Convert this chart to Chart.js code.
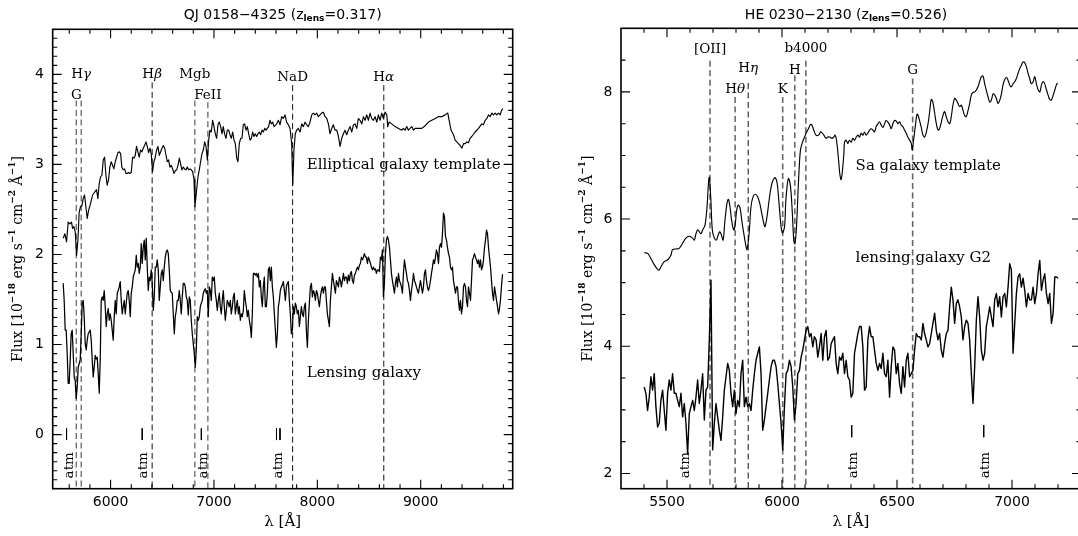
<!DOCTYPE html>
<html><head><meta charset="utf-8">
<script src="https://cdn.jsdelivr.net/npm/chart.js@4/dist/chart.umd.min.js"></script>
<style>
html,body{margin:0;padding:0;background:#fff;overflow:hidden;width:1078px;height:536px;}
#cL{position:absolute;left:0;top:0;}
#cR{position:absolute;left:540px;top:0;}
</style></head><body>
<canvas id="cL" width="540" height="536"></canvas>
<canvas id="cR" width="560" height="536"></canvas>
<script>
// ---------------- DATA ----------------
// Left panel: QJ 0158-4325, elliptical template
const leftTemplateLambda = [
5542,5558,5574,5590,5606,5622,5632,5645,5658,5671,5684,5696,5709,5722,5735,5748,5761,5774,5787,5800,
5813,5826,5838,5851,5864,5877,5890,5903,5916,5929,5942,5955,5967,5980,5993,6006,6019,6032,6045,6058,
6071,6084,6097,6109,6122,6135,6148,6161,6174,6187,6200,6213,6226,6239,6251,6264,6277,6290,6303,6316,
6329,6342,6355,6368,6381,6393,6406,6419,6432,6445,6458,6471,6484,6497,6510,6523,6535,6548,6561,6574,
6587,6600,6613,6626,6639,6652,6665,6677,6690,6703,6716,6729,6742,6755,6768,6781,6794,6807,6816,
6832,6845,6858,6871,6884,6897,6910,6923,6936,6949,6961,6974,6987,7000,7013,7026,7039,7052,7065,7078,
7090,7103,7116,7129,7142,7155,7168,7181,7194,7207,7220,7232,7245,7258,7271,7284,7297,7310,7323,7336,
7349,7362,7374,7387,7400,7413,7426,7439,7452,7465,7478,7491,7504,7516,7529,7542,7555,7568,7581,
7607,7623,7639,7655,7671,7687,7703,7720,7736,7752,7762,7774,7787,7800,7816,7833,7849,7865,7881,7897,
7913,7929,7946,7962,7978,7994,8010,8026,8042,8058,8075,8091,8107,8123,8139,8155,8171,8188,8204,8220,
8236,8252,8268,8284,8300,8317,8333,8349,8365,8381,8397,8413,8430,8446,8462,8478,8494,8510,8526,8542,
8559,8575,8591,8607,8623,8639,8655,8672,8681,8694,8720,8752,8785,8817,8833,8849,8865,8881,8897,8914,
8930,8946,8978,9010,9043,9075,9107,9140,9172,9204,9236,9262,9275,9294,9317,9333,9349,9365,9382,9398,
9414,9430,9446,9462,9478,9494,9527,9559,9591,9607,9624,9640,9656,9672,9688,9704,9720,9736,9753,9769,
9782,9795];
const leftTemplateFlux = [
2.18,2.23,2.14,2.36,2.34,2.36,2.29,2.31,2.25,1.99,2.16,2.47,2.53,2.54,2.62,2.66,2.53,2.40,2.49,2.54,
2.60,2.66,2.68,2.70,2.72,2.62,2.79,2.86,2.88,3.05,3.08,2.88,2.77,2.83,2.97,3.03,2.99,2.95,3.03,3.08,
3.13,3.14,3.12,2.97,2.94,2.95,2.90,2.90,2.91,2.90,2.91,3.08,3.07,3.10,3.20,3.14,3.08,3.16,3.14,3.18,
3.21,3.25,3.20,3.13,3.18,3.12,2.92,3.03,3.08,3.16,3.20,3.10,3.14,3.18,3.21,3.18,3.11,3.03,3.05,2.97,
2.99,2.95,2.90,2.93,2.94,2.99,3.07,3.01,2.94,2.97,2.95,2.94,2.97,2.94,2.95,2.94,2.92,2.83,2.53,
2.71,2.86,2.94,3.03,3.12,3.16,3.25,3.20,3.05,3.27,3.38,3.36,3.49,3.42,3.34,3.29,3.44,3.47,3.42,3.34,
3.42,3.34,3.29,3.38,3.38,3.33,3.29,3.36,3.27,3.23,3.07,3.03,3.23,3.29,3.29,3.44,3.45,3.38,3.42,3.34,
3.27,3.29,3.36,3.31,3.34,3.31,3.34,3.36,3.33,3.38,3.36,3.40,3.38,3.40,3.42,3.49,3.45,3.47,3.42,
3.45,3.49,3.44,3.53,3.51,3.55,3.47,3.44,3.40,3.23,2.77,3.16,3.34,3.38,3.40,3.36,3.45,3.42,3.47,3.44,
3.42,3.47,3.55,3.57,3.55,3.57,3.53,3.55,3.57,3.58,3.53,3.51,3.45,3.34,3.40,3.44,3.38,3.38,3.31,3.20,
3.29,3.34,3.38,3.33,3.38,3.42,3.36,3.44,3.45,3.40,3.51,3.49,3.45,3.53,3.49,3.55,3.49,3.57,3.51,3.49,
3.53,3.47,3.55,3.49,3.57,3.51,3.58,3.55,3.42,3.47,3.45,3.42,3.40,3.38,3.40,3.38,3.42,3.38,3.40,3.42,
3.38,3.40,3.40,3.40,3.43,3.47,3.49,3.51,3.53,3.53,3.55,3.57,3.49,3.38,3.33,3.27,3.25,3.23,3.21,3.18,
3.23,3.23,3.25,3.24,3.29,3.31,3.36,3.40,3.45,3.44,3.49,3.51,3.55,3.53,3.57,3.55,3.57,3.55,3.57,3.55,
3.60,3.62];

// Left panel: lensing galaxy, sampled on a regular wavelength grid
const leftGalaxyLambdaStart = 5541.5;
const leftGalaxyLambdaStep = 9.681;
const leftGalaxyFlux = [
1.68,1.49,1.16,1.16,0.90,0.57,0.57,0.83,1.12,1.16,0.90,0.64,0.60,0.40,0.53,0.75,0.79,0.83,1.12,1.46,
1.49,1.31,1.01,0.94,1.05,1.12,1.14,1.16,1.05,0.83,0.64,0.75,0.88,0.84,0.86,0.68,0.46,0.83,1.49,1.53,
1.49,1.60,1.42,1.20,1.34,1.40,1.27,1.34,1.27,1.16,1.05,1.31,1.49,1.34,1.57,1.60,1.64,1.70,1.49,1.34,
1.42,1.49,1.34,1.46,1.57,1.60,1.49,1.31,1.57,1.64,1.75,1.79,1.83,1.99,1.86,1.90,1.79,1.86,2.12,1.90,
2.08,2.16,1.94,2.18,1.86,1.60,1.75,1.71,1.83,1.68,1.38,1.53,1.86,1.86,1.94,1.83,1.49,1.64,1.79,1.83,
1.71,1.86,1.97,2.03,2.05,2.01,1.83,1.60,1.58,1.57,1.34,1.12,1.31,1.38,1.49,1.49,1.60,1.49,1.34,1.53,
1.68,1.68,1.64,1.53,1.49,1.33,1.53,1.49,1.27,1.12,1.01,0.90,0.75,0.94,1.31,1.27,1.31,1.42,1.46,1.49,
1.57,1.60,1.62,1.57,1.60,1.31,1.64,1.60,1.49,1.75,1.71,1.75,1.57,1.49,1.38,1.49,1.57,1.42,1.34,1.49,
1.60,1.42,1.27,1.38,1.49,1.46,1.42,1.49,1.34,1.42,1.53,1.57,1.34,1.42,1.49,1.34,1.42,1.27,1.34,1.31,
1.38,1.60,1.49,1.42,1.31,1.38,1.27,1.20,1.08,1.34,1.79,1.79,1.77,1.79,1.75,1.79,1.64,1.71,1.53,1.42,
1.64,1.75,1.42,1.42,1.57,1.83,1.86,1.71,1.86,1.64,1.53,1.34,1.16,0.97,1.12,1.42,1.49,1.60,1.64,1.66,
1.70,1.60,1.49,1.64,1.68,1.70,1.49,1.34,1.12,1.16,1.42,1.34,1.46,1.42,1.34,1.38,1.20,1.31,1.42,1.34,
1.31,1.42,1.46,1.16,0.97,1.27,1.46,1.64,1.68,1.53,1.60,1.57,1.49,1.60,1.57,1.49,1.42,1.53,1.60,1.64,
1.57,1.64,1.64,1.49,1.34,1.27,1.20,1.49,1.64,1.79,1.71,1.64,1.57,1.71,1.68,1.64,1.75,1.71,1.64,1.71,
1.79,1.71,1.75,1.75,1.68,1.77,1.71,1.79,1.81,1.71,1.68,1.77,1.79,1.83,1.86,1.83,1.88,1.90,1.97,1.94,
1.97,2.01,1.97,1.97,1.90,1.97,1.94,1.90,1.86,1.83,1.86,1.83,1.84,1.79,1.83,1.83,1.81,1.97,1.94,2.05,
1.53,1.68,2.01,2.16,2.20,2.16,2.08,1.94,1.79,1.71,1.64,1.57,1.68,1.75,1.64,1.79,1.71,1.68,1.64,1.57,
1.79,1.94,1.86,1.79,1.71,1.68,1.60,1.49,1.60,1.68,1.79,1.71,1.68,1.64,1.60,1.57,1.64,1.71,1.64,1.57,
1.64,1.79,1.83,1.71,1.64,1.60,1.64,1.71,1.79,1.86,1.94,1.90,1.97,2.05,2.01,1.90,2.08,2.12,2.08,2.23,
2.46,2.42,2.20,2.16,2.08,2.01,1.97,1.86,1.83,1.86,1.71,1.64,1.57,1.64,1.64,1.49,1.38,1.49,1.34,1.42,
1.64,1.68,1.64,1.49,1.42,1.64,1.57,1.49,1.71,1.94,1.97,2.01,1.97,1.94,1.90,1.94,1.86,1.94,1.83,1.86,
1.94,2.08,2.16,2.27,2.23,2.08,1.97,1.86,1.71,1.57,1.49,1.64,1.57,1.49,1.42,1.34,1.40,1.50,1.65,1.78];

// Right panel: HE 0230-2130, Sa template
const rightTemplateLambda = [
5401,5416,5430,5445,5459,5466,5474,5488,5503,5517,5524,5539,5553,5568,5582,5597,5611,5619,5626,5633,
5641,5648,5655,5665,5674,5683,5690,5697,5706,5715,5720,5729,5735,5744,5752,5761,5767,5774,5781,5790,
5796,5803,5810,5818,5825,5834,5844,5848,5857,5865,5874,5884,5894,5903,5912,5921,5926,5935,5944,5953,
5961,5970,5979,5987,5996,6002,6011,6016,6022,6028,6037,6045,6051,6056,6063,6072,6080,6089,6098,6106,
6115,6124,6130,6138,6148,6159,6167,6173,6182,6191,6199,6208,6217,6225,6231,6237,6246,6251,6257,6263,
6269,6272,6279,6286,6293,6301,6308,6315,6323,6330,6337,6344,6352,6359,6366,6373,6381,6388,6395,6402,
6410,6417,6424,6431,6439,6446,6453,6460,6468,6475,6482,6489,6497,6504,6511,6518,6526,6533,6540,6547,
6555,6562,6566,6572,6581,6587,6592,6598,6605,6613,6620,6627,6635,6642,6649,6656,6664,6671,6678,6685,
6693,6700,6707,6714,6722,6729,6736,6743,6751,6758,6765,6772,6780,6787,6794,6801,6809,6816,6823,6830,
6838,6845,6852,6859,6867,6874,6881,6888,6896,6903,6910,6918,6925,6932,6939,6947,6954,6961,6968,6976,
6983,6990,6997,7005,7012,7019,7026,7034,7041,7048,7055,7063,7070,7077,7084,7092,7099,7106,7113,7121,
7128,7135,7142,7150,7157,7164,7171,7179,7186,7193,7198];
const rightTemplateFlux = [
5.47,5.46,5.38,5.28,5.21,5.20,5.25,5.33,5.36,5.43,5.52,5.53,5.54,5.62,5.70,5.73,5.70,5.67,5.77,5.83,
5.80,5.77,5.83,5.90,6.19,6.66,6.35,5.83,5.70,5.67,5.72,5.80,5.77,5.67,5.98,6.25,6.31,6.19,5.98,5.83,
5.90,6.14,6.22,6.17,5.98,5.77,5.56,5.52,5.77,6.19,6.35,6.39,6.35,6.25,6.09,5.93,5.88,6.04,6.30,6.51,
6.61,6.65,6.56,6.25,5.88,5.78,5.88,6.25,6.51,6.64,6.51,6.09,5.67,5.61,5.88,6.61,7.08,7.21,7.29,7.36,
7.42,7.49,7.48,7.40,7.32,7.32,7.37,7.36,7.32,7.27,7.29,7.29,7.27,7.29,7.32,7.24,6.93,6.72,6.62,6.77,
7.03,7.21,7.24,7.19,7.24,7.21,7.27,7.24,7.29,7.32,7.29,7.35,7.32,7.37,7.32,7.35,7.40,7.42,7.40,7.37,
7.46,7.50,7.53,7.48,7.44,7.50,7.55,7.53,7.48,7.42,7.50,7.55,7.54,7.50,7.53,7.48,7.45,7.40,7.35,7.29,
7.24,7.19,7.09,7.24,7.50,7.65,7.63,7.55,7.45,7.32,7.29,7.36,7.50,7.69,7.88,7.84,7.66,7.50,7.40,7.42,
7.53,7.63,7.69,7.61,7.53,7.50,7.61,7.79,7.90,7.87,7.82,7.77,7.79,7.71,7.63,7.61,7.71,7.82,7.95,7.99,
8.00,8.03,8.08,8.16,8.24,8.25,8.13,8.03,7.92,7.84,7.87,7.97,7.95,7.90,7.82,7.87,7.97,8.11,8.19,8.23,
8.18,8.11,8.08,8.13,8.16,8.21,8.29,8.37,8.42,8.47,8.46,8.39,8.29,8.21,8.13,8.16,8.24,8.13,8.04,8.00,
8.11,8.16,8.13,8.03,7.95,7.88,7.87,7.95,8.03,8.11,8.14];

// Right panel: lensing galaxy G2, sampled on a regular wavelength grid
const rightGalaxyLambdaStart = 5401.0;
const rightGalaxyLambdaStep = 7.256;
const rightGalaxyFlux = [
3.36,3.26,2.99,3.20,3.52,3.31,3.57,3.05,2.73,2.79,3.15,3.31,2.99,2.68,3.26,3.47,3.31,3.57,3.26,3.26,
3.15,3.05,3.26,2.89,3.10,2.79,2.31,2.94,3.05,3.15,2.99,3.20,3.47,3.10,3.31,3.57,2.84,3.31,3.36,4.10,
5.04,2.37,2.79,3.10,2.89,2.68,2.52,2.89,3.31,3.52,3.73,3.62,3.26,3.05,3.31,2.94,3.15,3.05,3.57,3.78,
3.05,3.20,3.05,3.10,2.99,3.31,3.57,3.78,3.89,3.99,3.57,2.68,2.84,3.05,3.26,3.47,3.68,3.78,3.78,3.68,
3.41,3.10,2.79,2.37,3.05,3.57,3.62,3.78,3.68,3.36,2.84,3.10,3.57,3.62,3.83,3.94,4.10,4.25,4.31,4.15,
4.20,3.99,4.15,4.10,3.83,3.99,4.20,3.78,4.15,4.25,3.78,3.83,4.04,4.10,4.15,3.73,3.57,3.83,3.78,3.89,
3.57,3.78,3.52,3.47,3.20,3.26,3.89,4.04,4.20,4.31,4.31,3.99,3.31,3.36,4.10,4.31,4.15,4.15,3.94,3.73,
3.62,3.73,3.65,3.89,3.57,3.52,3.78,3.20,3.68,3.99,3.94,3.57,3.73,3.41,3.26,3.68,3.36,3.78,3.89,3.52,
3.57,3.62,3.94,4.20,4.15,4.15,4.10,4.36,4.20,4.10,3.99,4.04,4.20,4.36,4.52,4.25,4.10,4.20,3.94,3.83,
4.04,4.20,4.25,4.62,4.93,4.73,4.36,4.67,4.73,4.62,4.46,4.10,4.31,4.41,4.36,4.10,3.57,3.10,3.68,4.41,
4.78,4.46,3.94,3.78,3.89,4.31,4.46,4.62,4.46,4.31,4.73,4.83,4.62,4.78,4.46,4.78,4.83,4.62,4.93,5.30,
5.20,3.89,4.36,4.83,5.09,5.14,4.93,5.07,4.88,4.62,4.83,4.73,4.73,4.93,4.67,4.83,5.14,5.35,4.88,5.04,
5.14,4.83,4.67,4.83,4.36,4.52,5.09,5.09,5.07];

// Spectral features (observed wavelengths)
const leftFeatureNames  = ['G','Hγ','Hβ','Mgb','FeII','NaD','Hα'];
const leftFeatureLambda = [5668,5716,6402,6815,6941,7761,8643];
const rightFeatureNames  = ['[OII]','Hθ','Hη','K','H','b4000','G'];
const rightFeatureLambda = [5687,5796,5853,6003,6056,6104,6568];
// Atmospheric absorption markers
const leftAtmTickLambda  = [5574,6306,6878,7605,7639];
const leftAtmLabelLambda = [5599,6318,6895,7622];
const rightAtmTickLambda  = [6303,6877];
const rightAtmLabelLambda = [5580,6310,6883];
// Tick labels
const leftXTicks  = [6000,7000,8000,9000];
const leftYTicks  = [0,1,2,3,4];
const rightXTicks = [5500,6000,6500,7000];
const rightYTicks = [2,4,6,8];

// ---------------- STYLE / LAYOUT ----------------
const SERIF = 'DejaVu Serif', SANS = 'DejaVu Sans';
const GREEK = {'γ':1,'β':1,'α':1,'θ':1,'η':1};
function labelParts(name){
  return name.split('').reduce((acc,ch)=>{
    const it = !!GREEK[ch];
    const last = acc[acc.length-1];
    if (last && last.it===it) last.t += ch; else acc.push({t:ch,it});
    return acc;
  },[]);
}
function drawRich(ctx, x, y, parts, size, family, align){
  let w = 0;
  const items = parts.map(p=>{
    const s = p.s || size;
    const font = (p.it?'italic ':'') + (p.b?'bold ':'') + s + 'px "' + family + '"';
    ctx.font = font;
    const wd = ctx.measureText(p.t).width;
    w += wd;
    return {p, font, wd};
  });
  let cx = align==='center' ? x - w/2 : (align==='right' ? x - w : x);
  ctx.textAlign='left'; ctx.textBaseline='middle';
  items.forEach(it=>{ ctx.font = it.font; ctx.fillText(it.p.t, cx, y + (it.p.dy||0)); cx += it.wd; });
}
const yTitleParts = [{t:'Flux [10'},{t:'−18',s:9,b:true,dy:-5},{t:' erg s'},{t:'−1',s:9,b:true,dy:-5},
  {t:' cm'},{t:'−2',s:9,b:true,dy:-5},{t:' Å'},{t:'−1',s:9,b:true,dy:-5},{t:']'}];

function makeDecor(P){
  return {
    id:'decor_'+P.id,
    afterDraw(chart){
      const ctx = chart.ctx, a = chart.chartArea, xs = chart.scales.x, ys = chart.scales.y;
      ctx.save();
      ctx.fillStyle='#000'; ctx.strokeStyle='#000';
      // frame
      ctx.lineWidth = 1.6;
      ctx.strokeRect(a.left, a.top, a.right-a.left, a.bottom-a.top);
      // inward ticks on all sides
      ctx.lineWidth = 1.1;
      ctx.beginPath();
      for (let i=0;;i++){
        const v = P.xMinorFirst + i*P.xMinorStep;
        if (v >= P.xmax) break;
        if (v <= P.xmin) continue;
        const p = xs.getPixelForValue(v);
        const major = Math.abs(v/P.xMajorStep - Math.round(v/P.xMajorStep)) < 1e-6;
        const L = major ? 9 : 4.5;
        ctx.moveTo(p, a.bottom); ctx.lineTo(p, a.bottom-L);
        ctx.moveTo(p, a.top); ctx.lineTo(p, a.top+L);
      }
      for (let i=0;;i++){
        const v = Math.round((P.yMinorFirst + i*P.yMinorStep)*1000)/1000;
        if (v >= P.ymax) break;
        if (v <= P.ymin) continue;
        const p = ys.getPixelForValue(v);
        const major = Math.abs(v/P.yMajorStep - Math.round(v/P.yMajorStep)) < 1e-6;
        const L = major ? 9 : 4.5;
        ctx.moveTo(a.left, p); ctx.lineTo(a.left+L, p);
        ctx.moveTo(a.right, p); ctx.lineTo(a.right-L, p);
      }
      ctx.stroke();
      // feature labels
      P.featureNames.forEach((n,i)=>{
        drawRich(ctx, xs.getPixelForValue(P.featureLambda[i]), ys.getPixelForValue(P.featureStyle[i].labelY),
          labelParts(n), 13.5, SERIF, 'center');
      });
      // spectrum labels
      P.texts.forEach(t=>{
        drawRich(ctx, xs.getPixelForValue(t.lam), ys.getPixelForValue(t.y), [{t:t.text}], 15, SERIF, 'left');
      });
      // atm labels (rotated)
      P.atmLabelLambda.forEach(l=>{
        ctx.save();
        ctx.translate(xs.getPixelForValue(l), ys.getPixelForValue(P.atmLabelY));
        ctx.rotate(-Math.PI/2);
        drawRich(ctx, 0, 0, [{t:'atm'}], 13.5, SERIF, 'center');
        ctx.restore();
      });
      // title
      drawRich(ctx, (a.left+a.right)/2 + P.titleDx, 15, P.titleParts, 14, SANS, 'center');
      // x title
      drawRich(ctx, (a.left+a.right)/2, a.bottom + 33, [{t:'λ [Å]'}], 15, SERIF, 'center');
      // y title
      ctx.save();
      ctx.translate(a.left - P.yTitleOffset, (a.top+a.bottom)/2);
      ctx.rotate(-Math.PI/2);
      drawRich(ctx, 0, 0, yTitleParts, 14, SERIF, 'center');
      ctx.restore();
      ctx.restore();
    }
  };
}

function build(canvasId, P){
  const datasets = [];
  datasets.push({data:P.template, borderColor:'#000', borderWidth:1.15, tension:P.templateTension,
    pointRadius:0, borderJoinStyle:'round'});
  datasets.push({data:P.galaxy, borderColor:'#000', borderWidth:P.galaxyWidth, tension:0,
    pointRadius:0, borderJoinStyle:'round'});
  P.featureLambda.forEach((l,i)=>{
    const st = P.featureStyle[i];
    datasets.push({data:[{x:l,y:st.top},{x:l,y:P.ymin}], borderColor:st.color, borderWidth:st.width,
      borderDash:[6,3.5], pointRadius:0, tension:0});
  });
  P.atmTickLambda.forEach(l=>{
    datasets.push({data:[{x:l,y:P.atmTop},{x:l,y:P.atmBottom}], borderColor:'#000', borderWidth:1,
      pointRadius:0, tension:0});
  });
  const tickFont = {family:SANS, size:14};
  new Chart(document.getElementById(canvasId), {
    type:'line',
    data:{datasets},
    options:{
      responsive:false, animation:false, devicePixelRatio:1,
      layout:{padding:P.padding},
      plugins:{legend:{display:false}, tooltip:{enabled:false}},
      elements:{line:{fill:false}},
      scales:{
        x:{type:'linear', min:P.xmin, max:P.xmax,
           grid:{display:false, drawTicks:false}, border:{display:false},
           afterBuildTicks:s=>{ s.ticks = P.xTicks.map(v=>({value:v})); },
           afterFit:s=>{ s.height = P.xAxisHeight; },
           ticks:{padding:5, font:tickFont, color:'#000', maxRotation:0, autoSkip:false, callback:v=>String(v)}},
        y:{type:'linear', min:P.ymin, max:P.ymax,
           grid:{display:false, drawTicks:false}, border:{display:false},
           afterBuildTicks:s=>{ s.ticks = P.yTicks.map(v=>({value:v})); },
           afterFit:s=>{ s.width = P.yAxisWidth; },
           ticks:{padding:8.7, font:tickFont, color:'#000', autoSkip:false, callback:v=>String(v)}}
      }
    },
    plugins:[makeDecor(P)]
  });
}

const toPoints = (xs, ys) => xs.map((x,i)=>({x, y:ys[i]}));
const onGrid = (start, step, ys) => ys.map((y,i)=>({x:start + i*step, y}));
const DARK = '#111', GREY = '#666';

build('cL', {
  id:'L',
  template: toPoints(leftTemplateLambda, leftTemplateFlux), templateTension:0,
  galaxy: onGrid(leftGalaxyLambdaStart, leftGalaxyLambdaStep, leftGalaxyFlux), galaxyWidth:1.25,
  xmin:5440, xmax:9890, ymin:-0.6, ymax:4.5,
  xTicks:leftXTicks, yTicks:leftYTicks,
  xMinorFirst:5600, xMinorStep:200, xMajorStep:1000,
  yMinorFirst:-0.5, yMinorStep:0.1, yMajorStep:1,
  padding:{left:0, right:27.3, top:29.3, bottom:0},
  yAxisWidth:52.7, xAxisHeight:47.3,
  featureNames:leftFeatureNames, featureLambda:leftFeatureLambda,
  featureStyle:[
    {top:3.71, labelY:3.77, color:GREY, width:1.3},
    {top:3.71, labelY:4.00, color:GREY, width:1.3},
    {top:3.91, labelY:4.00, color:DARK, width:1.0},
    {top:3.71, labelY:4.00, color:GREY, width:1.3},
    {top:3.69, labelY:3.77, color:GREY, width:1.3},
    {top:3.88, labelY:3.96, color:DARK, width:1.0},
    {top:3.88, labelY:3.96, color:DARK, width:1.0}],
  texts:[{lam:7897, y:2.99, text:'Elliptical galaxy template'},
         {lam:7897, y:0.68, text:'Lensing galaxy'}],
  atmTickLambda:leftAtmTickLambda, atmTop:0.07, atmBottom:-0.06,
  atmLabelLambda:leftAtmLabelLambda, atmLabelY:-0.34,
  titleParts:[{t:'QJ 0158−4325 (z'},{t:'lens',s:9,b:true,dy:4},{t:'=0.317)'}], titleDx:0,
  yTitleOffset:34.7
});

build('cR', {
  id:'R',
  template: toPoints(rightTemplateLambda, rightTemplateFlux), templateTension:0.35,
  galaxy: onGrid(rightGalaxyLambdaStart, rightGalaxyLambdaStep, rightGalaxyFlux), galaxyWidth:1.4,
  xmin:5300, xmax:7300, ymin:1.76, ymax:9.0,
  xTicks:rightXTicks, yTicks:rightYTicks,
  xMinorFirst:5400, xMinorStep:100, xMajorStep:500,
  yMinorFirst:2, yMinorStep:0.5, yMajorStep:2,
  padding:{left:0, right:19, top:28.3, bottom:0},
  yAxisWidth:81, xAxisHeight:47.3,
  featureNames:rightFeatureNames, featureLambda:rightFeatureLambda,
  featureStyle:[
    {top:8.49, labelY:8.66, color:DARK, width:1.0},
    {top:7.92, labelY:8.04, color:DARK, width:1.0},
    {top:8.14, labelY:8.37, color:DARK, width:1.0},
    {top:7.92, labelY:8.04, color:GREY, width:1.6},
    {top:8.26, labelY:8.34, color:DARK, width:1.0},
    {top:8.49, labelY:8.69, color:DARK, width:1.0},
    {top:8.21, labelY:8.33, color:GREY, width:1.6}],
  texts:[{lam:6320, y:6.83, text:'Sa galaxy template'},
         {lam:6320, y:5.38, text:'lensing galaxy G2'}],
  atmTickLambda:rightAtmTickLambda, atmTop:2.76, atmBottom:2.57,
  atmLabelLambda:rightAtmLabelLambda, atmLabelY:2.13,
  titleParts:[{t:'HE 0230−2130 (z'},{t:'lens',s:9,b:true,dy:4},{t:'=0.526)'}], titleDx:-5,
  yTitleOffset:33
});
</script>
</body></html>
